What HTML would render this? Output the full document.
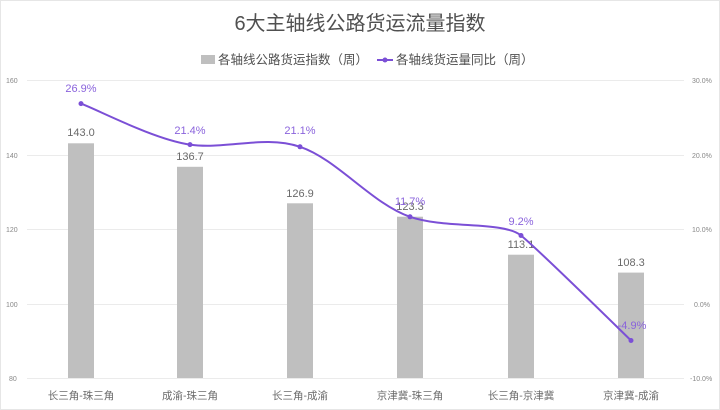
<!DOCTYPE html>
<html><head><meta charset="utf-8"><style>
html,body{margin:0;padding:0;background:#fff;}
svg{display:block;font-family:"Liberation Sans","Noto Sans CJK SC",sans-serif;}
</style></head><body>
<svg width="720" height="410" viewBox="0 0 720 410" xmlns="http://www.w3.org/2000/svg">
<rect x="0.5" y="0.5" width="719" height="409" fill="#fff" stroke="#e6e6e6"/>
<text x="360" y="30" text-anchor="middle" font-size="20" fill="#505050">6大主轴线公路货运流量指数</text>
<rect x="201" y="55" width="14" height="9" fill="#bfbfbf"/>
<text x="218" y="64" font-size="12.5" fill="#505050">各轴线公路货运指数（周）</text>
<line x1="377" y1="60" x2="393" y2="60" stroke="#7b4fd6" stroke-width="2"/>
<circle cx="385" cy="60" r="2.5" fill="#7b4fd6"/>
<text x="396" y="64" font-size="12.5" fill="#505050">各轴线货运量同比（周）</text>
<g stroke="#ebebeb" stroke-width="1">
<line x1="27" y1="80.5" x2="684" y2="80.5"/>
<line x1="27" y1="155.5" x2="684" y2="155.5"/>
<line x1="27" y1="229.5" x2="684" y2="229.5"/>
<line x1="27" y1="304.5" x2="684" y2="304.5"/>
<line x1="27" y1="378.5" x2="684" y2="378.5"/>
</g>
<g font-size="7" fill="#888">
<text x="6" y="83">160</text><text x="6" y="158">140</text><text x="6" y="232">120</text><text x="6" y="307">100</text><text x="9" y="381">80</text>
<text x="692" y="83">30.0%</text><text x="692" y="158">20.0%</text><text x="692" y="232">10.0%</text><text x="694" y="307">0.0%</text><text x="690" y="381">-10.0%</text>
</g>
<g fill="#bfbfbf">
<rect x="68" y="143.3" width="26" height="234.7"/>
<rect x="177" y="166.8" width="26" height="211.2"/>
<rect x="287" y="203.3" width="26" height="174.7"/>
<rect x="397" y="216.7" width="26" height="161.3"/>
<rect x="508" y="254.7" width="26" height="123.3"/>
<rect x="618" y="272.6" width="26" height="105.4"/>
</g>
<g font-size="11" fill="#6a6a6a" text-anchor="middle">
<text x="81" y="136">143.0</text><text x="190" y="160">136.7</text><text x="300" y="197">126.9</text>
<text x="410" y="210">123.3</text><text x="521" y="248">113.1</text><text x="631" y="266">108.3</text>
</g>
<path d="M81,103.6 C99,110.4 154,139.4 190,144.6 C226,149.8 264,134.8 300,146.8 C337,159.1 372,203.8 410,216.8 C446,229.2 503,220.9 521,235.5 C539,250.1 613,323 631,340.5" fill="none" stroke="#7b4fd6" stroke-width="2"/>
<g fill="#7b4fd6">
<circle cx="81" cy="103.6" r="2.5"/><circle cx="190" cy="144.6" r="2.5"/><circle cx="300" cy="146.8" r="2.5"/>
<circle cx="410" cy="216.8" r="2.5"/><circle cx="521" cy="235.5" r="2.5"/><circle cx="631" cy="340.5" r="2.5"/>
</g>
<g font-size="11" fill="#8a63dc" text-anchor="middle">
<text x="81" y="92">26.9%</text><text x="190" y="134">21.4%</text><text x="300" y="134">21.1%</text>
<text x="410" y="205">11.7%</text><text x="521" y="225">9.2%</text><text x="632" y="329">-4.9%</text>
</g>
<g font-size="10.5" fill="#6a6a6a" text-anchor="middle">
<text x="81" y="399">长三角-珠三角</text><text x="190" y="399">成渝-珠三角</text><text x="300" y="399">长三角-成渝</text>
<text x="410" y="399">京津冀-珠三角</text><text x="521" y="399">长三角-京津冀</text><text x="631" y="399">京津冀-成渝</text>
</g>
</svg>
</body></html>
